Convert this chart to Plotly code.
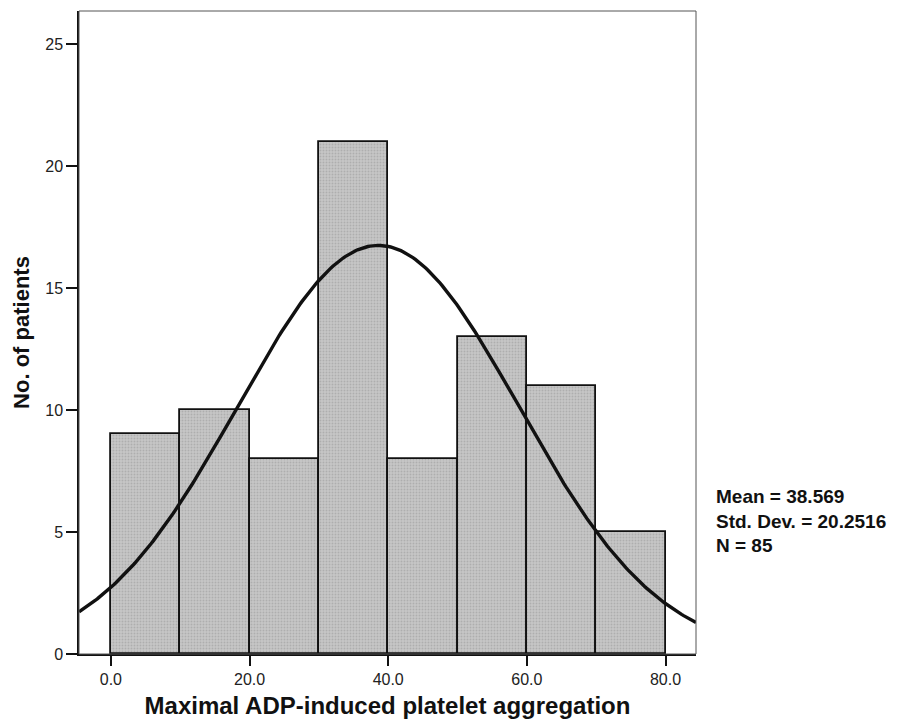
import numpy as np
import plotly.graph_objects as go

bin_left = [0, 10, 20, 30, 40, 50, 60, 70]
counts = [9, 10, 8, 21, 8, 13, 11, 5]
bin_width = 10
MEAN = 38.569
SD = 20.2516
N = 85
x_ticks = [0, 20, 40, 60, 80]
x_tick_labels = ["0.0", "20.0", "40.0", "60.0", "80.0"]
y_ticks = [0, 5, 10, 15, 20, 25]

x_range = [-4.6, 84.4]
y_range = [0, 26.35]

centers = [b + bin_width / 2 for b in bin_left]
xs = np.linspace(x_range[0], x_range[1], 300)
ys = N * bin_width / (SD * np.sqrt(2 * np.pi)) * np.exp(-0.5 * ((xs - MEAN) / SD) ** 2)

fig = go.Figure()
fig.add_trace(go.Bar(x=centers, y=counts, width=bin_width,
                     marker=dict(color="#bfbfbf", line=dict(color="#111111", width=1.8),
                                 pattern=dict(shape=".", size=3, solidity=0.3,
                                              fgcolor="#959595", bgcolor="#c6c6c6")),
                     hoverinfo="skip"))
fig.add_trace(go.Scatter(x=xs, y=ys, mode="lines",
                         line=dict(color="#111111", width=3.4), hoverinfo="skip"))

fig.add_shape(type="rect", xref="paper", yref="paper", x0=0, y0=0, x1=1, y1=1,
              line=dict(color="#555555", width=1))

fig.update_layout(
    width=898, height=724,
    margin=dict(l=71, r=210, t=3, b=78),
    paper_bgcolor="white", plot_bgcolor="white",
    showlegend=False,
    bargap=0,
    font=dict(family="Liberation Sans, Arial, sans-serif", color="#222222"),
    xaxis=dict(range=x_range, tickvals=x_ticks, ticktext=x_tick_labels,
               ticks="outside", ticklen=10, tickwidth=1.5, tickcolor="#111111",
               showline=True, linecolor="#111111", linewidth=1.5,
               showgrid=False, zeroline=False, tickfont=dict(size=16),
               title=dict(text="<b>Maximal ADP-induced platelet aggregation</b>",
                          font=dict(size=24, color="#111111"), standoff=10)),
    yaxis=dict(range=y_range, tickvals=y_ticks,
               ticks="outside", ticklen=11, tickwidth=1.5, tickcolor="#111111",
               showline=True, linecolor="#111111", linewidth=1.5,
               showgrid=False, zeroline=False, tickfont=dict(size=16),
               title=dict(text="<b>No. of patients</b>",
                          font=dict(size=22, color="#111111"), standoff=10)),
)

fig.add_annotation(xref="paper", yref="paper", x=1.029, y=0.207,
                   xanchor="left", yanchor="middle", align="left", showarrow=False,
                   text="<b>Mean = 38.569<br>Std. Dev. = 20.2516<br>N = 85</b>",
                   font=dict(size=19, color="#111111"))

fig.write_html("out.html")
